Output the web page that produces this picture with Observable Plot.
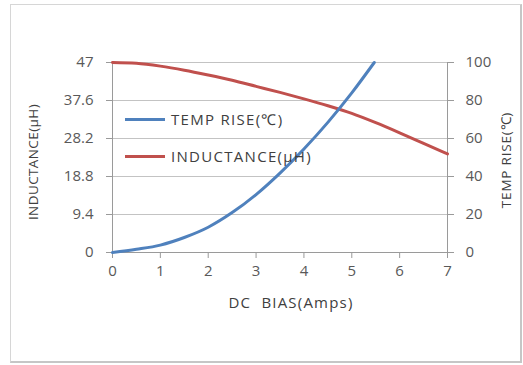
<!DOCTYPE html>
<html><head><meta charset="utf-8">
<script src="https://cdn.jsdelivr.net/npm/d3@7"></script>
<script src="https://cdn.jsdelivr.net/npm/@observablehq/plot@0.6"></script>
<style>
body{margin:0;background:#fff;}
#wrap{position:relative;width:523px;height:365px;font-family:"Open Sans",sans-serif;}
#wrap svg{position:absolute;left:0;top:0;}
#frame{position:absolute;left:10px;top:4px;width:509px;height:356px;border:1px solid #d6d6d6;border-right:2px solid #c6c6c6;border-bottom:2px solid #c6c6c6;pointer-events:none;}
.t{position:absolute;color:#404040;white-space:pre;line-height:1;}
.rot{transform:translate(-50%,-50%) rotate(-90deg);}
.ctr{transform:translate(-50%,-50%);}
.leg{position:absolute;display:flex;align-items:center;color:#404040;font-size:15px;letter-spacing:1.3px;white-space:pre;transform:translateY(-50%);}
.sw{display:inline-block;width:40px;height:3px;margin-right:6px;}
</style></head><body><div id="wrap"></div>
<script>
// DC bias (A) samples for the temperature-rise curve
const biasTemp = [0, 0.5, 1, 1.5, 2, 2.5, 3, 3.5, 4, 4.5, 5, 5.47];
const tempRise = [0, 1.7, 3.9, 7.9, 13.3, 21, 30.5, 41.8, 54.5, 68.5, 84, 100];
// DC bias (A) samples for the inductance curve
const biasInd = [0, 0.5, 1, 1.5, 2, 2.5, 3, 3.5, 4, 4.5, 5, 5.5, 6, 6.5, 7];
const inductance = [47, 46.8, 46.1, 45.1, 43.9, 42.6, 41.1, 39.6, 38.0, 36.3, 34.4, 32.1, 29.6, 27.0, 24.4];
const xTicks = [0, 1, 2, 3, 4, 5, 6, 7];
const leftTicks = [0, 9.4, 18.8, 28.2, 37.6, 47];
const rightTicks = [0, 20, 40, 60, 80, 100];
const seriesNames = ["TEMP RISE(℃)", "INDUCTANCE(μH)"];
const seriesColors = ["#4f81bd", "#c0504d"];
const xTitle = "DC  BIAS(Amps)";
const yLeftTitle = "INDUCTANCE(μH)";
const yRightTitle = "TEMP RISE(℃)";

const k = leftTicks[leftTicks.length - 1] / rightTicks[rightTicks.length - 1];
const tempData = biasTemp.map((b, i) => ({b, v: tempRise[i] * k}));
const indData = biasInd.map((b, i) => ({b, v: inductance[i]}));

const chart = Plot.plot({
  width: 523, height: 365,
  marginLeft: 112, marginRight: 76, marginTop: 62, marginBottom: 113,
  style: {fontFamily: "'Open Sans', sans-serif", fontSize: "15px", color: "#595959", background: "transparent", overflow: "visible"},
  x: {domain: [0, 7]},
  y: {domain: [0, 47]},
  marks: [
    Plot.ruleY(leftTicks, {stroke: "#c3c3c3", strokeWidth: 1}),
    Plot.ruleY([0], {stroke: "#9a9a9a"}),
    Plot.ruleX([0, 7], {stroke: "#9a9a9a"}),
    Plot.axisX(xTicks, {anchor: "bottom", tickSize: 6, tickPadding: 7, label: null, stroke: "#9a9a9a"}),
    Plot.axisY(leftTicks, {anchor: "left", tickSize: 6, tickPadding: 13, label: null, stroke: "#9a9a9a", tickFormat: d => String(d)}),
    Plot.axisY(rightTicks.map(v => v * k), {anchor: "right", tickSize: 6, tickPadding: 12, label: null, stroke: "#9a9a9a", tickFormat: d => String(Math.round(d / k))}),
    Plot.line(indData, {x: "b", y: "v", stroke: seriesColors[1], strokeWidth: 3, curve: "monotone-x"}),
    Plot.line(tempData, {x: "b", y: "v", stroke: seriesColors[0], strokeWidth: 3, curve: "monotone-x"})
  ]
});
const wrap = document.getElementById("wrap");
wrap.appendChild(chart);

function addText(txt, cls, left, top, size, ls) {
  const d = document.createElement("div");
  d.className = "t " + cls;
  d.style.left = left + "px"; d.style.top = top + "px"; d.style.fontSize = size + "px";
  d.style.letterSpacing = ls + "px";
  d.textContent = txt;
  wrap.appendChild(d);
}
addText(yLeftTitle, "rot", 34, 162, 13.5, 0.4);
addText(yRightTitle, "rot", 507, 160, 13.5, 0.8);
addText(xTitle, "ctr", 291, 302, 15, 1.2);

seriesNames.forEach((name, i) => {
  const d = document.createElement("div");
  d.className = "leg";
  d.style.left = "125px";
  d.style.top = (119 + i * 37) + "px";
  const s = document.createElement("span");
  s.className = "sw"; s.style.background = seriesColors[i];
  d.appendChild(s);
  d.appendChild(document.createTextNode(name));
  wrap.appendChild(d);
});
const f = document.createElement("div"); f.id = "frame"; wrap.appendChild(f);
</script></body></html>
